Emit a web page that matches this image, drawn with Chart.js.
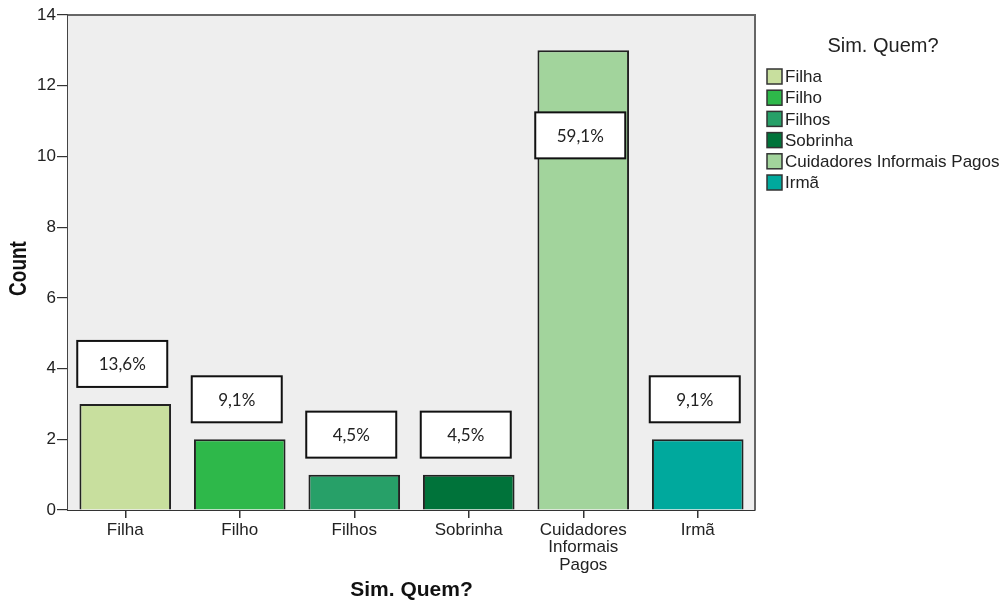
<!DOCTYPE html>
<html>
<head>
<meta charset="utf-8">
<script src="https://cdn.jsdelivr.net/npm/chart.js@4"></script>
<style>
  body { margin: 0; background: #fff; }
  canvas { display: block; }
</style>
</head>
<body>
<canvas id="myChart" width="1005" height="606"></canvas>
<script>
var categories = ["Filha", "Filho", "Filhos", "Sobrinha", "Cuidadores Informais Pagos", "Irmã"];
var counts = [3, 2, 1, 1, 13, 2];
var barColors = ["#c8df9e", "#2eb84a", "#27a068", "#00733a", "#a2d49c", "#00a99d"];
var yTicks = [0, 2, 4, 6, 8, 10, 12, 14];

var fontFamily = "'Liberation Sans', Arial, sans-serif";
var total = counts.reduce((a, b) => a + b, 0);
var percents = counts.map(v => (v / total * 100).toFixed(1).replace(".", ",") + "%");

// plot background + frame
var plotFrame = {
    id: "plotFrame",
    beforeDatasetsDraw(chart) {
        var a = chart.chartArea, ctx = chart.ctx;
        ctx.save();
        ctx.fillStyle = "#eeeeee";
        ctx.fillRect(a.left, a.top, a.right - a.left, a.bottom - a.top);
        ctx.strokeStyle = "#666";
        ctx.lineWidth = 2;
        ctx.beginPath();
        ctx.moveTo(a.left, a.top);
        ctx.lineTo(a.right, a.top);
        ctx.lineTo(a.right, a.bottom);
        ctx.stroke();
        ctx.restore();
    },
};

// percentage boxes over bars
var percentBoxes = {
    id: "percentBoxes",
    afterDatasetsDraw(chart) {
        var ctx = chart.ctx, a = chart.chartArea;
        var meta = chart.getDatasetMeta(0);
        ctx.save();
        meta.data.forEach((bar, i) => {
            var w = 90, h = 46;
            var cx = bar.x - 3;
            var cy = bar.y - 40;
            if (cy - h / 2 < a.top + 5) cy = bar.y + 85;
            ctx.fillStyle = "#fff";
            ctx.fillRect(cx - w / 2, cy - h / 2, w, h);
            ctx.strokeStyle = "#111";
            ctx.lineWidth = 2;
            ctx.strokeRect(cx - w / 2, cy - h / 2, w, h);
            ctx.fillStyle = "#222";
            ctx.font = "17px Lato, 'Open Sans', sans-serif";
            ctx.textAlign = "center";
            ctx.textBaseline = "middle";
            ctx.fillText(percents[i], cx, cy + 1);
        });
        ctx.restore();
    },
};

// legend on the right + y axis title
var sideLegend = {
    id: "sideLegend",
    afterDraw(chart) {
        var ctx = chart.ctx, a = chart.chartArea;
        ctx.save();
        ctx.fillStyle = "#222";
        ctx.font = "20px " + fontFamily;
        ctx.textAlign = "center";
        ctx.textBaseline = "middle";
        ctx.fillText("Sim. Quem?", 883, 46);
        ctx.textAlign = "left";
        ctx.font = "17px " + fontFamily;
        categories.forEach((name, i) => {
            var y = 76.5 + 21.2 * i;
            ctx.fillStyle = barColors[i];
            ctx.fillRect(767, y - 7.5, 15, 15);
            ctx.strokeStyle = "#333";
            ctx.lineWidth = 1.5;
            ctx.strokeRect(767, y - 7.5, 15, 15);
            ctx.fillStyle = "#222";
            ctx.fillText(name, 785, y + 1);
        });

        // "Count", a little below the middle like the original
        ctx.translate(19, (a.top + a.bottom) / 2 + 6);
        ctx.scale(1.25, 1);
        ctx.rotate(-Math.PI / 2);
        ctx.font = "bold 19px " + fontFamily;
        ctx.textAlign = "center";
        ctx.textBaseline = "middle";
        ctx.fillStyle = "#111";
        ctx.fillText("Count", 0, 0);
        ctx.restore();
    },
};

new Chart("myChart", {
    type: "bar",
    data: {
        labels: categories,
        datasets: [
            {
                data: counts,
                backgroundColor: barColors,
                borderColor: "#222",
                borderWidth: 2,
                barPercentage: 0.8,
                categoryPercentage: 1,
            },
        ],
    },
    options: {
        responsive: false,
        animation: false,
        layout: { padding: { top: 15, right: 250, left: 0, bottom: 0 } },
        plugins: {
            legend: { display: false },
            tooltip: { enabled: false },
        },
        scales: {
            x: {
                grid: {
                    display: true,
                    drawOnChartArea: false,
                    drawTicks: true,
                    tickLength: 8,
                    offset: false,
                    color: "#333",
                    lineWidth: 1.5,
                },
                border: { display: true, color: "#333", width: 2 },
                ticks: {
                    color: "#222",
                    padding: 3,
                    maxRotation: 0,
                    autoSkip: false,
                    font: { family: fontFamily, size: 17, lineHeight: 1.05 },
                    callback: function (value) {
                        var label = this.getLabelForValue(value);
                        return label.length > 12 ? label.split(" ") : label;
                    },
                },
                title: {
                    display: true,
                    text: "Sim. Quem?",
                    color: "#111",
                    font: { family: fontFamily, size: 21, weight: "bold" },
                    padding: { top: 0, bottom: 3 },
                },
                afterFit(scale) {
                    scale.height = 96;
                },
            },
            y: {
                min: 0,
                max: 14,
                afterBuildTicks(scale) {
                    scale.ticks = yTicks.map(v => ({ value: v }));
                },
                grid: {
                    display: true,
                    drawOnChartArea: false,
                    drawTicks: true,
                    tickLength: 11,
                    color: "#333",
                    lineWidth: 1.2,
                },
                border: { display: true, color: "#444", width: 3 },
                ticks: {
                    color: "#222",
                    padding: 1,
                    font: { family: fontFamily, size: 17 },
                },
                title: { display: false },
                afterFit(scale) {
                    scale.width = 68;
                },
            },
        },
    },
    plugins: [plotFrame, percentBoxes, sideLegend],
});
</script>
</body>
</html>
